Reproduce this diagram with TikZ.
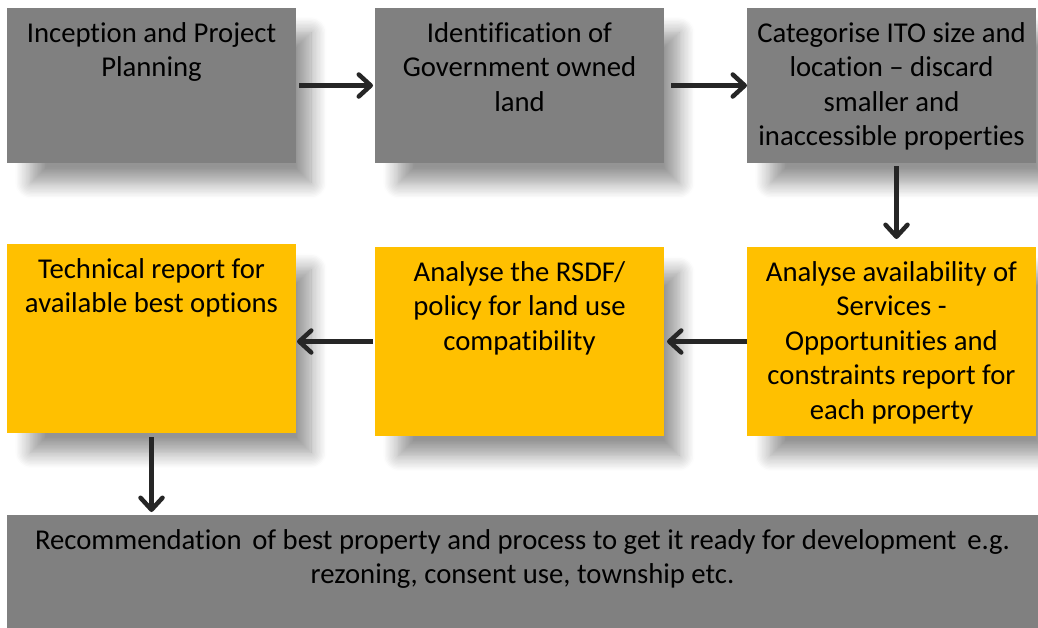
\documentclass[tikz,border=0pt]{standalone}
\usepackage{fontspec}
\setmainfont[Ligatures=NoCommon]{Carlito}
\usetikzlibrary{shapes,arrows.meta,positioning,shadows.blur}
\definecolor{stepgrey}{RGB}{128,128,128}
\definecolor{stepyellow}{RGB}{255,192,0}
\definecolor{arrowgrey}{RGB}{38,38,38}
\newcommand{\steptext}[3]{\begin{minipage}[t][#2][t]{#1}\centering\rule{0pt}{34pt}#3\end{minipage}}

\begin{document}
\begin{tikzpicture}[x=1pt,y=-1pt,% styles for all boxes and arrows
			every node/.style={
				rectangle,inner sep=0pt,outer sep=0pt,
				font=\fontsize{28.7}{34.5}\selectfont,
				blur shadow={shadow xshift=20pt,shadow yshift=-23pt,shadow scale=0.97,shadow blur radius=16pt,shadow blur steps=12,shadow opacity=42}
			},
			greystep/.style={fill=stepgrey},
			yellowstep/.style={fill=stepyellow},
			every edge/.style={draw=arrowgrey,line width=4.5pt},
			>={Straight Barb[length=12pt,width=22pt,round]}
		]
		\useasboundingbox (0,0) rectangle (1038,627);
		\node[greystep,anchor=north west](R1) at (7,8){\steptext{289pt}{155pt}{Inception and Project\\Planning}};
		\node[greystep](R2)[right=79pt of R1]{\steptext{289pt}{155pt}{Identification of\\Government owned\\land}};
		\node[greystep](R3)[right=83pt of R2]{\steptext{289pt}{155pt}{Categorise ITO size and\\location -- discard\\smaller and\\inaccessible properties}};
		\node[yellowstep](R4)[below=84pt of R3]{\steptext{289pt}{189pt}{Analyse availability of\\Services -\\Opportunities and\\constraints report for\\each property}};
		\node[yellowstep](R5)[left=83pt of R4]{\steptext{289pt}{189pt}{Analyse the RSDF/\\policy for land use\\compatibility}};
		\node[yellowstep](R6)[left=79pt of R5,yshift=3pt]{\steptext{289pt}{189pt}{Technical report for\\available best options}};
		\node[greystep](R7)[below=82pt of R6.south west,anchor=north west]{\steptext{1031pt}{120pt}{Recommendation\hspace{0.15em} of best property and process to get it ready for development\hspace{0.15em} e.g.\\rezoning, consent use, township etc.}};
		\path[->]
		(R1)edge [shorten <=3pt,shorten >=2pt] (R2)
		(R2)edge [shorten <=7pt] (R3)
		([xshift=5pt]R3.south)edge [shorten <=3pt,shorten >=8pt] ([xshift=5pt]R4.north)
		(R4)edge [shorten >=3pt] (R5)
		(R5.west)edge [shorten <=2pt,shorten >=1pt] (R5.west -| R6.east)
		(R6.south)edge [shorten <=4pt,shorten >=3pt] (R6.south |- R7.north)
		;
	\end{tikzpicture}
\end{document}
